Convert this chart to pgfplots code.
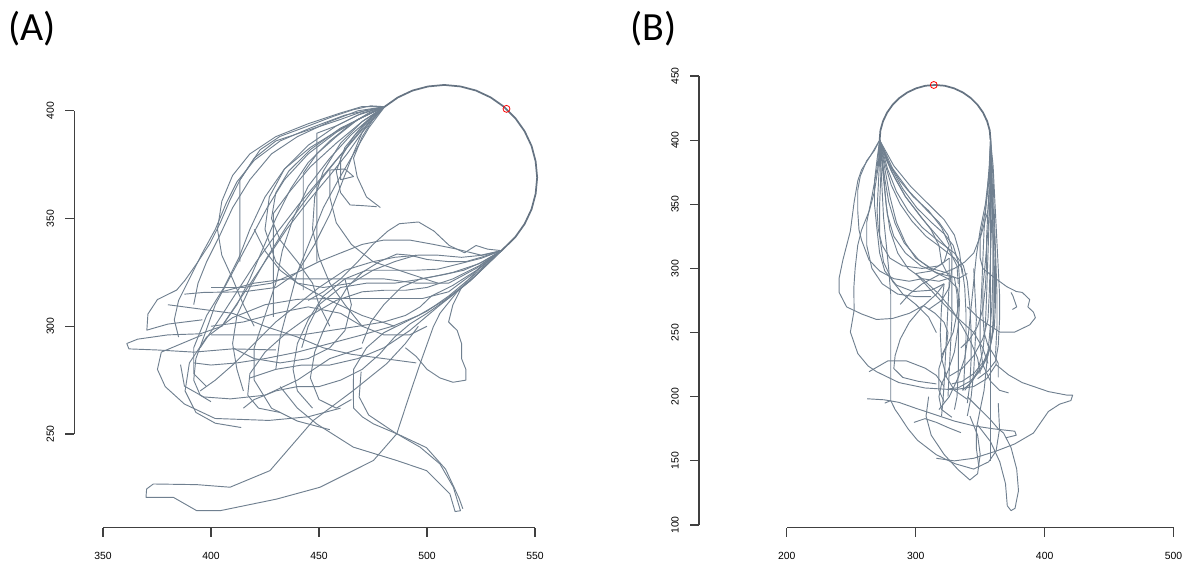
\documentclass[border=0pt]{standalone}
\usepackage{fontspec}
\setmainfont{Liberation Sans}
\newfontfamily\panelfont{Carlito}
\usepackage{pgfplots}
\pgfplotsset{compat=1.18}
\definecolor{slategray}{HTML}{708090}

\pgfplotsset{
  trj/.style={draw=slategray, line width=0.7pt, mark=none, line join=round},
  arc/.style={draw=slategray!90!black, line width=1.3pt, mark=none, line join=round},
  start/.style={only marks, mark=o, mark size=2.6pt, draw=red, mark options={line width=0.6pt}},
  field/.style={scale only axis, hide axis, clip=false},
  rticks/.style={
    scale only axis,
    ticklabel style={font=\fontsize{7.8}{9}\selectfont},
    /pgf/number format/assume math mode=true,
  },
  rtickfinish/.style={
    axis line style={-, black!75, line width=0.9pt},
    tick style={black!75, line width=0.9pt},
    major tick length=6.75pt, tick align=outside,
  },
  xonly/.style={rticks, axis x line=bottom, axis y line=none, rtickfinish,
    ymin=0, ymax=1, height=1pt, ytick=\empty,
    xticklabel style={yshift=-8pt}},
  yonly/.style={rticks, axis y line=left, axis x line=none, rtickfinish,
    xmin=0, xmax=1, width=1pt, xtick=\empty,
    yticklabel style={rotate=90, anchor=south, yshift=5pt}},
}

\begin{document}
\begin{tikzpicture}
\path[use as bounding box] (0,0) rectangle (887.25pt,423.75pt);

\node[anchor=base west, inner sep=0pt, font=\panelfont\fontsize{30}{30}\selectfont] at (6pt,393pt) {(A)};
\node[anchor=base west, inner sep=0pt, font=\panelfont\fontsize{30}{30}\selectfont] at (472.5pt,393pt) {(B)};

% ---------------- panel A: axes ----------------
\begin{axis}[xonly, at={(77.25pt,28pt)}, anchor=south west, width=324pt,
  xmin=350, xmax=550, xtick={350,400,450,500,550}]
\end{axis}
\begin{axis}[yonly, at={(55.7pt,98.25pt)}, anchor=south west, height=242.4pt,
  ymin=250, ymax=400, ytick={250,300,350,400}]
\end{axis}

% ---------------- panel A: tracks ----------------
\begin{axis}[field, at={(77.25pt,98.25pt)}, anchor=south west, width=324pt, height=242.4pt,
  xmin=350, xmax=550, ymin=250, ymax=400]
% tails reaching the upper-left end of the shared arc
\addplot[trj] coordinates {(396,303) (380,301) (370.3,298.2) (370.8,305.7) (375.2,312.4) (384.1,316.8) (388,321.4) (393.4,329.1) (399.5,338.4) (404.2,347.8) (408.8,358.6) (413.4,367.9) (416.5,372.6) (422.7,381.9) (431.9,388.1) (444.3,392.7) (456.6,397.4) (465.9,400.5) (474,402.3) (480.4,401.9)};
\addplot[trj] coordinates {(430,289) (410,289.5) (392,288) (375,289) (362,289.5) (361,292) (366,294) (380,296) (395,296.5) (405,300) (412,310) (418,322) (424,336) (430,350) (437,364) (445,376) (455,386) (465,394) (473,399) (480.4,401.9)};
\addplot[trj] coordinates {(398,272) (392,278) (392,290) (398,305) (406,318) (413,332) (418,345) (425,360) (434,373) (446,383) (459,391) (470,397) (480.4,401.9)};
\addplot[trj] coordinates {(455,252) (440,256) (428,262) (420,275) (420,290) (425,305) (430,320) (433,335) (438,350) (445,365) (455,378) (465,389) (474,397) (480.4,401.9)};
\addplot[trj] coordinates {(470,300) (462,310) (455,320) (450,332) (447,345) (448,360) (452,372) (460,385) (470,395) (480.4,401.9)};
\addplot[trj] coordinates {(442.7,316.8) (442.7,335) (442.7,355) (442.7,371) (449,380) (458,388) (468,396) (480.4,401.9)};
\addplot[trj] coordinates {(413.4,330) (413.4,350) (413.4,367.9) (420,378) (430,386) (445,391) (460,396) (471,400) (480.4,401.9)};
\addplot[trj] coordinates {(428.9,304.4) (428.9,320) (428.9,340) (428.9,352.4) (436,362) (446,374) (458,385) (470,395) (480.4,401.9)};
\addplot[trj] coordinates {(449,330) (449,345) (449,363.3) (449,375) (449,389.6) (458,393) (468,398) (480.4,401.9)};
\addplot[trj] coordinates {(505,320) (490,325) (475,330) (465,338) (458,348) (455,360) (455,372.5) (462,373) (466,369.5) (460,368) (460,378) (466,388) (473,396) (480.4,401.9)};
\addplot[trj] coordinates {(476.7,355.5) (470,356) (464.4,356.3) (460,362) (458,372) (462,383) (470,393) (480.4,401.9)};
\addplot[trj] coordinates {(485,300) (470,305) (455,312) (440,320) (430,330) (425,345) (427,360) (434,373) (445,384) (458,393) (470,399) (480.4,401.9)};
\addplot[trj] coordinates {(400,265) (395,268) (392,275) (393,285) (397,296) (402,310) (410,325) (418,340) (426,355) (434,368) (445,380) (458,390) (470,397) (480.4,401.9)};
\addplot[trj] coordinates {(387.7,314.9) (396.6,315.7) (415,316) (430,318) (440,325) (448,338) (455,352) (460,365) (465,378) (470,390) (475,398) (480.4,401.9)};
\addplot[trj] coordinates {(420,300) (415,310) (410,322) (405,333) (403,345) (405,358) (410,370) (418,380) (430,388) (445,394) (460,399) (470,402) (480.4,401.9)};
\addplot[trj] coordinates {(478.4,355.1) (472,360) (467.7,369.3) (466,378) (470,388) (475,396) (480.4,401.9)};
\addplot[trj] coordinates {(392,310) (394,320) (398,330) (404,342) (410,355) (418,368) (428,380) (440,388) (455,395) (468,400) (480.4,401.9)};
\addplot[trj] coordinates {(405,300) (415,315) (425,330) (435,345) (445,358) (455,370) (463,380) (470,390) (476,397) (480.4,401.9)};
\addplot[trj] coordinates {(395,290) (403,302) (412,316) (421,330) (431,344) (441,357) (452,370) (462,382) (471,393) (480.4,401.9)};
\addplot[trj] coordinates {(430,280) (432,295) (436,310) (440,325) (446,340) (452,355) (459,368) (466,380) (473,392) (480.4,401.9)};
\addplot[trj] coordinates {(415,270) (412,280) (410,292) (412,305) (418,318) (426,332) (436,348) (447,363) (458,377) (469,390) (480.4,401.9)};
\addplot[trj] coordinates {(455,300) (450,310) (447,320) (440,330) (432,340) (428,350) (430,362) (436,372) (446,382) (460,392) (480.4,401.9)};
\addplot[trj] coordinates {(385,295) (383,303) (385,312) (390,322) (396,334) (402,345) (407,357) (412,367) (420,377) (432,386) (446,392) (462,398) (480.4,401.9)};
% tails leaving the lower-right end of the shared arc
\addplot[trj] coordinates {(534.5,335.1) (526,333) (516,332) (505,333) (496,333) (485,332) (475,330) (462,326) (450,318) (440,310) (430,302) (420,292) (410,282) (402,275) (395,270)};
\addplot[trj] coordinates {(534.5,335.1) (525,331.5) (515,329) (505,326.5) (495,326) (485,326) (472,326) (462,322) (452,314) (445,303) (440,292) (438,280) (440,270) (447,262)};
\addplot[trj] coordinates {(534.5,335.1) (524,328) (512,322) (500,318) (490,316.7) (480,316.7) (470,316) (458,312) (446,305) (435,297) (425,288) (418,278) (417,268) (422,262) (432,260)};
\addplot[trj] coordinates {(534.5,335.1) (522,325) (510,316) (498,312.9) (485,312.9) (470,312.9) (455,312.9) (440,312.5) (425,310) (410,304) (398,295) (390,283) (388,270) (393,260) (402,255) (414,253)};
\addplot[trj] coordinates {(534.5,335.1) (521,322) (508,312) (496,305) (484,300) (470,296) (455,292) (440,288) (425,285) (412,283) (400,282) (392,283)};
\addplot[trj] coordinates {(534.5,335.1) (522,323) (510,313) (500,306) (492,301) (485,295) (478,287) (470,280) (460,275) (450,272) (440,272) (430,270) (420,266) (415,262)};
\addplot[trj] coordinates {(534.5,335.1) (528,335.8) (522.7,337.5) (517.4,334.1) (510.3,337.5) (503.2,344.2) (496.1,348.4) (487.2,347.6) (481.9,344.2) (475,338) (468,330) (460,322) (452,316) (445,312)};
\addplot[trj] coordinates {(534.5,335.1) (525,332) (518,330) (510,330) (500,331) (492,333) (486,333.5) (478,330) (470,325) (463,318) (457,308) (452,298) (448,288) (446,276) (450,266) (458,262) (465,266)};
\addplot[trj] coordinates {(534.5,335.1) (523,326) (512,319) (502,314) (496.8,309) (490,305) (480,302) (468,300) (455,298) (442,296) (430,296) (415,296) (400,296)};
\addplot[trj] coordinates {(534.5,335.1) (524,325) (514,316) (506,306) (502.9,299.7) (496.8,282.6) (492.1,268.7) (486,250.1) (475.2,237.7) (450.5,225.3) (430.4,219.8) (404.2,214.4) (393.4,214.4) (382.6,220.6) (369.9,220.6) (370.2,224.5) (373.3,226.8) (393.4,226.5) (408.8,225.3) (427.3,233) (447.4,256.3) (465.9,270.2) (481.3,282.6) (490,292) (496,300)};
\addplot[trj] coordinates {(534.5,335.1) (522,324) (510,314) (500,307) (490,302) (480,297) (472,290) (466,280) (465.9,270) (466,262) (470,258) (475.2,254.7) (486,250.1) (496.8,243.9) (506,236.1) (512.2,225.3) (515.5,214.4) (513,214) (510.6,222.2) (499.8,233) (486,237.7) (465.9,243.9) (448.9,254.7) (440,262) (432,272)};
\addplot[trj] coordinates {(534.5,335.1) (524,327) (516,318) (512,310) (510,302) (514,298) (516,292) (516,285) (518,280) (518,275) (512,274) (506,276) (500,280) (495,286) (490,290)};
\addplot[trj] coordinates {(534.5,335.1) (523,327) (510,320) (495,320) (480,322) (465,322) (450,322) (435,322) (420,320) (405,316)};
\addplot[trj] coordinates {(534.5,335.1) (524,329) (512,325) (498,322) (485,320) (472,320) (460,318) (450,310) (445,300) (442,290)};
\addplot[trj] coordinates {(534.5,335.1) (520,321) (505,309) (492,298) (480,290) (468,285) (455,282) (442,282) (430,280) (418,276)};
\addplot[trj] coordinates {(534.5,335.1) (526,330) (517,326) (508,324) (497,322) (488,318) (480,310) (474,302) (470,292)};
\addplot[trj] coordinates {(534.5,335.1) (525,333) (513,336) (503,338) (492,340) (480,340) (470,338) (460,334) (450,330) (440,325) (428,320) (415,318) (400,318)};
% loops in the middle of the field
\addplot[trj] coordinates {(396,296) (377,288) (375.2,280) (378.8,272) (387.7,263.9) (401.9,257.2) (426.8,256.3) (445,258) (460,262)};
\addplot[trj] coordinates {(385.9,282.2) (387.7,272.2) (396.6,267.2) (409,266.3) (425,268) (440,275) (455,285) (470,290)};
\addplot[trj] coordinates {(469.5,278.9) (468.6,267.2) (473,258.8) (485.5,250.4) (499.7,243.7) (508.6,233.7) (514.8,220.3) (516.6,215.3)};
\addplot[trj] coordinates {(400,300) (415,302) (430,306) (445,309) (460,306) (470,300) (480,296) (492,296) (500,300)};
\addplot[trj] coordinates {(410,290) (420,285) (432,283) (445,285) (455,290) (462,298) (465,310) (462,322)};
\addplot[trj] coordinates {(380,310) (395,308) (410,306) (425,300) (440,295) (452,290) (465,287) (480,285) (495,283)};
\addplot[trj] coordinates {(420,345) (425,335) (432,326) (440,320) (452,318) (465,320) (475,326) (485,330) (495,333)};
% shared arc
\addplot[arc] coordinates {(480.4,401.9) (486.5,406.2) (493.3,409.4) (500.5,411.3) (508,412) (515.5,411.3) (522.7,409.4) (529.5,406.2) (535.6,401.9) (540.9,396.6) (545.2,390.5) (548.4,383.7) (550.3,376.5) (551,369) (550.3,361.5) (548.4,354.3) (545.2,347.5) (540.9,341.4) (534.5,335.1)};
\addplot[start] coordinates {(536.8,400.9)};
\end{axis}

% ---------------- panel B: axes ----------------
\begin{axis}[xonly, at={(590.1pt,28pt)}, anchor=south west, width=290.1pt,
  xmin=200, xmax=500, xtick={200,300,400,500}]
\end{axis}
\begin{axis}[yonly, at={(524.25pt,30pt)}, anchor=south west, height=336.75pt,
  ymin=100, ymax=450, ytick={100,150,...,450}]
\end{axis}

% ---------------- panel B: tracks ----------------
\begin{axis}[field, at={(590.1pt,30pt)}, anchor=south west, width=290.1pt, height=336.75pt,
  xmin=200, xmax=500, ymin=100, ymax=450]
% tails from the left foot of the arch
\addplot[trj] coordinates {(272,400) (265,388) (258,376.9) (255.1,368.5) (252.2,351.6) (249.3,329.1) (243.5,306.6) (240.6,292.5) (240.6,281.3) (246.4,270) (258,264.5) (269.6,260.2) (282,261) (295,265) (306,271)};
\addplot[trj] coordinates {(272,400) (268,392) (262,384) (257,372) (255,361) (255,345) (256,330) (258,322) (263.8,306.6) (272,298) (283,292) (295,290) (305,292)};
\addplot[trj] coordinates {(272,400) (272,385) (271,365) (270,345) (271,330) (274,318) (280,308) (290,302) (305,300) (318,302) (326,308)};
\addplot[trj] coordinates {(272,400) (274,380) (276,360) (278,342) (283,325) (292,312) (304,302) (318,296) (330,293)};
\addplot[trj] coordinates {(272,400) (276,382) (281,365) (288,350) (297,337) (308,325) (320,316) (330,308) (336,300)};
\addplot[trj] coordinates {(272,400) (278,378) (285,360) (294,345) (305,332) (318,321) (330,312) (337,302) (340,290)};
\addplot[trj] coordinates {(272,400) (274,385) (276,370) (279,352) (284,335) (291,320) (302,307) (315,297) (325,292) (332,285) (334,275)};
\addplot[trj] coordinates {(272,400) (280,380) (290,362) (301,347) (312,336) (322,327) (329,318) (333,305) (334,290) (333,270)};
\addplot[trj] coordinates {(272,400) (270,385) (268,368) (268,350) (270,330) (272,312) (276,298) (285,287) (298,282) (312,283) (322,288)};
\addplot[trj] coordinates {(272,400) (275,375) (277,350) (280,330) (286,312) (294,300) (305,292) (318,290) (328,293)};
\addplot[trj] coordinates {(272,400) (282,378) (295,360) (308,346) (318,336) (325,326) (328,315) (328,300) (326,285) (320,275) (310,268)};
\addplot[trj] coordinates {(272,400) (273,380) (274,360) (275,340) (277,320) (279,300) (280.6,280) (280.6,261.6) (280.6,230) (280.6,197) (276,195)};
\addplot[trj] coordinates {(272,400) (271,380) (268,360) (264,345) (258,330) (255,318) (253,300) (252,285) (252.2,267.3) (249.3,250.4) (255.1,233.6) (263,224) (269.6,219.5) (287,211) (307.2,206.8) (330.4,205.4) (345,208) (355,214) (362.3,225.1)};
\addplot[trj] coordinates {(272,400) (279,382) (288,368) (298,356) (310,345) (320,332) (326,318) (322,305) (312,298) (300,296)};
\addplot[trj] coordinates {(272,400) (277,385) (284,370) (292,356) (302,343) (312,330) (318,318) (320,305) (325,295) (333,292) (340,296)};
\addplot[trj] coordinates {(272,400) (276,378) (280,356) (285,336) (292,320) (300,308) (312,300) (326,296)};
\addplot[trj] coordinates {(272,400) (281,376) (292,356) (304,340) (316,326) (326,314) (332,302) (333,288)};
\addplot[trj] coordinates {(272,400) (283,380) (296,364) (310,350) (322,338) (330,326) (334,312) (336,296)};
\addplot[trj] coordinates {(272,400) (270,378) (266,356) (262,336) (262,318) (266,300) (274,288) (286,280) (300,278) (312,278)};
\addplot[trj] coordinates {(272,400) (273,375) (272,350) (272,325) (275,305) (282,290) (290,280) (300,272) (310,262) (316,250)};
% tails from the right foot of the arch
\addplot[trj] coordinates {(358,400) (358.5,380) (359,360) (359.5,340) (360,320) (360,300) (360,280) (360,260) (359,245) (356,232) (350,220) (342,212) (333,207) (325,206)};
\addplot[trj] coordinates {(358,400) (359,375) (360,350) (361,325) (362,300) (362,275) (361,255) (358,240) (353,228) (345,218) (336,212) (328,210)};
\addplot[trj] coordinates {(358,400) (358,370) (357,340) (356,310) (355,280) (354,255) (352,235) (348,220) (342,210) (336,205)};
\addplot[trj] coordinates {(358,400) (357,380) (355,355) (353,330) (352,305) (351,280) (350,260) (350,240) (352,225) (358,212) (365,205) (372,203)};
\addplot[trj] coordinates {(358,400) (360,370) (361,340) (362,310) (363,280) (363,255) (362,235) (362.3,225) (372,217) (382.6,211) (402.9,204) (417.4,201.2) (421.7,201.2) (420.3,197) (411.6,194.2) (402.9,188.5) (397.1,180.1) (391.3,171.7) (376.8,163.2) (362.3,157.6) (344.9,152) (330,150) (316,152)};
\addplot[trj] coordinates {(358,400) (358,370) (356,345) (350,323.5) (349.9,308.4) (352,300) (360.2,293.4) (370.6,285.8) (378,282) (382.6,281.3) (388.4,275.7) (387,270) (391.3,265.9) (392.8,261.6) (388.4,256) (376.8,250.4) (365.2,250.4) (356.5,256) (348,262) (340,270)};
\addplot[trj] coordinates {(373.9,281.3) (375.4,278.5) (378.3,270) (375,268)};
\addplot[trj] coordinates {(358,400) (357,375) (354,350) (350,330) (347,310) (345,290) (343,270) (341,250) (338,230) (333,215) (326,200) (318,190)};
\addplot[trj] coordinates {(358,400) (359,380) (358,355) (356,330) (354,305) (352,285) (352,265) (353,250) (356,240) (361,232) (364,226) (364,215)};
\addplot[trj] coordinates {(358,400) (359,365) (360,335) (360,300) (359,270) (357,245) (355,225) (353,205) (350,190) (347,175) (347,160) (349,145)};
\addplot[trj] coordinates {(358,400) (358,360) (358,320) (358,280) (358,240) (358,200) (358,170) (358,150)};
\addplot[trj] coordinates {(358,400) (357,370) (354,345) (350,325) (345,312) (338,305) (330,300) (318,295) (305,288) (295,280) (288,272)};
\addplot[trj] coordinates {(358,400) (360,380) (361,360) (362,340) (363,320) (364,300) (365,280) (365,260) (364,240) (362,228) (356,220) (348,214)};
\addplot[trj] coordinates {(358,400) (358,385) (357,365) (356,345) (355,325) (355,305) (354,285) (352,268) (348,255) (342,245) (335,238)};
\addplot[trj] coordinates {(358,400) (359,370) (359,340) (358,310) (357,280) (356,260) (352,245) (345,232) (336,222) (326,216)};
\addplot[trj] coordinates {(358,400) (358,375) (359,350) (360,325) (361,300) (361,275) (360,252) (357,236) (352,225) (345,214) (338,205)};
% central column
\addplot[trj] coordinates {(326,308) (326,290) (325,270) (324,250) (323,230) (322,210) (321,195) (320,185)};
\addplot[trj] coordinates {(330,293) (332,280) (333,260) (333,240) (333,220) (332,200) (330,190)};
\addplot[trj] coordinates {(336,300) (338,285) (339,265) (339,245) (338,225) (337,205)};
\addplot[trj] coordinates {(340,290) (342,270) (343,250) (343,230) (342,210) (340,195)};
\addplot[trj] coordinates {(334,275) (333,255) (330,235) (325,220) (320,210) (318,200) (320,190) (328,184)};
\addplot[trj] coordinates {(333,270) (329,250) (322,235) (318,222) (318,205) (322,196)};
\addplot[trj] coordinates {(305,292) (318,280) (328,268) (336,255) (343,242) (348,230) (350,218)};
\addplot[trj] coordinates {(300,296) (310,285) (322,272) (334,260) (345,250) (352,238) (356,226)};
\addplot[trj] coordinates {(328,300) (328,280) (328,260) (327,240) (326,220) (325,200)};
\addplot[trj] coordinates {(345,300) (346,280) (347,260) (346,240) (345,220) (343,200) (340,185)};
\addplot[trj] coordinates {(322,288) (320,270) (319,250) (320,230) (324,215) (330,205) (340,198)};
% lower loops
\addplot[trj] coordinates {(322,288) (316,280) (305,270) (295,258) (288,245) (284,232) (283,222) (290,215) (302,212) (316,210)};
\addplot[trj] coordinates {(280.6,197) (284,190) (287,185.7) (294,175) (301.4,166) (315.9,154.8) (330.4,147.8) (344.9,143.6) (356.5,149.2) (362.3,157.6) (365,175) (364,195)};
\addplot[trj] coordinates {(310,200) (308,185) (312,170) (322,155) (333,143) (342,135.1) (348,140) (350,155) (348,170) (342,185)};
\addplot[trj] coordinates {(340,200) (350,190) (358,182) (364,175) (368.1,171.7) (373.9,160.4) (378.3,143.6) (379.7,126.7) (377,113) (373.9,111.2) (371,115) (369.6,132.3) (365.2,149.2) (358,165) (348,178)};
\addplot[trj] coordinates {(262.3,198.4) (275.4,197.6) (287,195.6) (300,191) (316,185.7) (330,181) (344.9,177.3) (360,175) (376.8,173.1) (378,170) (370,168)};
\addplot[trj] coordinates {(263.8,219.5) (278.3,227.9) (292.8,227.9) (307.2,222.3) (315.9,216.7) (322,208)};
\addplot[trj] coordinates {(306,271) (315,265) (322,258) (325,250) (324,240) (320,232)};
\addplot[trj] coordinates {(298.6,180) (307.2,182.9) (316,180) (325,176) (335,172)};
% shared arch
\addplot[arc] coordinates {(272,400) (272.6,407.5) (274.6,414.7) (277.8,421.5) (282.1,427.6) (287.4,432.9) (293.5,437.2) (300.3,440.4) (307.5,442.4) (315,443) (322.5,442.4) (329.7,440.4) (336.5,437.2) (342.6,432.9) (347.9,427.6) (352.2,421.5) (355.4,414.7) (357.4,407.5) (358,400)};
\addplot[start] coordinates {(314,443)};
\end{axis}
\end{tikzpicture}
\end{document}
